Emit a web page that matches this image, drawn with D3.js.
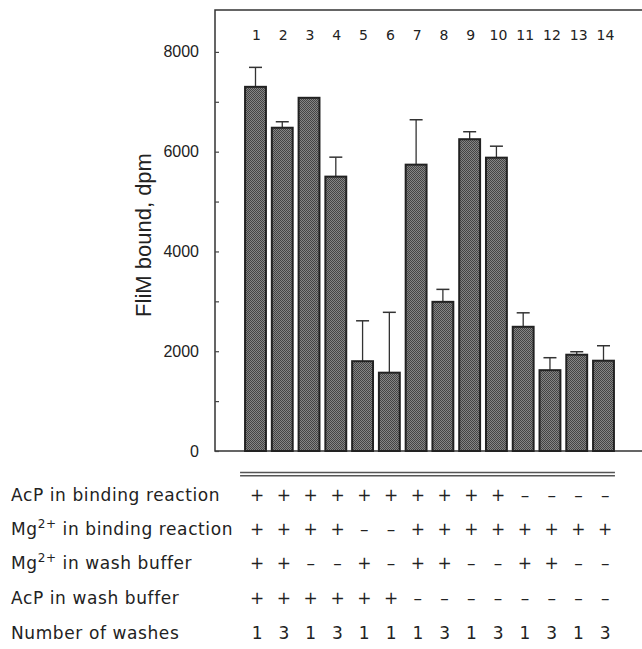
<!DOCTYPE html>
<html>
<head>
<meta charset="utf-8">
<script src="https://cdn.jsdelivr.net/npm/d3@7"></script>
<style>
  body { margin: 0; background: #fff; }
  svg { display: block; }
  .tick-label { font-family: "Liberation Sans", Arial, sans-serif; font-size: 16px; fill: #222; }
  .axis-title { font-family: "Liberation Sans", Arial, sans-serif; font-size: 22px; fill: #222; }
  .table-text { font-family: "DejaVu Sans", sans-serif; font-size: 17px; fill: #222; letter-spacing: 0.6px; }
  .lane-num { font-family: "DejaVu Sans", sans-serif; font-size: 14px; fill: #222; }
</style>
</head>
<body>
<div id="chart"></div>
<script>
// lanes 1..14
const lanes = [1, 2, 3, 4, 5, 6, 7, 8, 9, 10, 11, 12, 13, 14]
const bound = [7300, 6480, 7080, 5500, 1800, 1570, 5740, 2990, 6250, 5880, 2490, 1620, 1930, 1810]
// top of error bar, null when none drawn
const errTop = [7690, 6600, null, 5890, 2610, 2780, 6640, 3240, 6400, 6110, 2770, 1870, 1990, 2110]
const yTicks = [0, 2000, 4000, 6000, 8000]

const rowLabels = ["AcP in binding reaction", "Mg|2+| in binding reaction", "Mg|2+| in wash buffer", "AcP in wash buffer", "Number of washes"]
const acpBinding = ["+", "+", "+", "+", "+", "+", "+", "+", "+", "+", "–", "–", "–", "–"]
const mgBinding = ["+", "+", "+", "+", "–", "–", "+", "+", "+", "+", "+", "+", "+", "+"]
const mgWash = ["+", "+", "–", "–", "+", "–", "+", "+", "–", "–", "+", "+", "–", "–"]
const acpWash = ["+", "+", "+", "+", "+", "+", "–", "–", "–", "–", "–", "–", "–", "–"]
const washes = ["1", "3", "1", "3", "1", "1", "1", "3", "1", "3", "1", "3", "1", "3"]
const rows = [acpBinding, mgBinding, mgWash, acpWash, washes]

const W = 642, H = 649
const plot = { left: 215, top: 10, bottom: 451, right: 643 }

const svg = d3.select('#chart').append('svg')
    .attr('width', W)
    .attr('height', H)

// dithered grey fill like the scanned print
const defs = svg.append('defs')
const pat = defs.append('pattern')
    .attr('id', 'dots')
    .attr('width', 2).attr('height', 2)
    .attr('patternUnits', 'userSpaceOnUse')
pat.append('rect').attr('width', 2).attr('height', 2).attr('fill', '#858585')
pat.append('rect').attr('width', 1).attr('height', 1).attr('fill', '#444')
pat.append('rect').attr('x', 1).attr('y', 1).attr('width', 1).attr('height', 1).attr('fill', '#444')

const y = d3.scaleLinear()
    .domain([0, 8840])
    .range([plot.bottom, plot.top])

const x = d3.scalePoint()
    .domain(lanes)
    .range([255.5, 603.5])

const barW = x.step() * 0.78

// frame: top, left, baseline
svg.append('path')
    .attr('d', `M${plot.right},${plot.top}H${plot.left}V${plot.bottom}H${plot.right}`)
    .attr('fill', 'none')
    .attr('stroke', '#333')
    .attr('stroke-width', 1.5)

// inward ticks, minor every 1000
const yAxis = d3.axisRight(y)
    .tickValues(d3.range(0, 8001, 1000))
    .tickSize(4)
    .tickFormat('')
const yAxisG = svg.append('g')
    .attr('transform', `translate(${plot.left},0)`)
    .call(yAxis)
yAxisG.select('.domain').remove()
yAxisG.selectAll('.tick line').attr('stroke', '#444').attr('stroke-width', 1.2)

svg.selectAll('.tick-label')
    .data(yTicks)
    .enter()
        .append('text')
            .attr('class', 'tick-label')
            .attr('x', 199)
            .attr('y', d => y(d) + 5.5)
            .attr('text-anchor', 'end')
            .text(d => d)

svg.append('text')
    .attr('class', 'axis-title')
    .attr('transform', 'translate(151, 235) rotate(-90)')
    .attr('text-anchor', 'middle')
    .text('FliM bound, dpm')

// lane numbers on top
svg.selectAll('.lane-num')
    .data(lanes)
    .enter()
        .append('text')
            .attr('class', 'lane-num')
            .attr('x', d => x(d) + (d > 9 ? 2 : 1))
            .attr('y', 40)
            .attr('text-anchor', 'middle')
            .text(d => d)

// error bars
const errData = lanes.map((l, i) => ({ lane: l, v: bound[i], top: errTop[i] })).filter(d => d.top !== null)
const errG = svg.append('g')
errG.selectAll('line.stem').data(errData)
    .enter()
        .append('line')
            .attr('class', 'stem')
            .attr('x1', d => x(d.lane)).attr('x2', d => x(d.lane))
            .attr('y1', d => y(d.v)).attr('y2', d => y(d.top))
            .attr('stroke', '#333').attr('stroke-width', 1.3)
errG.selectAll('line.cap').data(errData)
    .enter()
        .append('line')
            .attr('class', 'cap')
            .attr('x1', d => x(d.lane) - 6.5).attr('x2', d => x(d.lane) + 6.5)
            .attr('y1', d => y(d.top)).attr('y2', d => y(d.top))
            .attr('stroke', '#333').attr('stroke-width', 1.5)

// bars
svg.append('g').selectAll('rect')
    .data(lanes.map((l, i) => ({ lane: l, v: bound[i] })))
    .enter()
        .append('rect')
            .attr('x', d => x(d.lane) - barW / 2)
            .attr('y', d => y(d.v))
            .attr('width', barW)
            .attr('height', d => y(0) - y(d.v))
            .attr('fill', 'url(#dots)')
            .attr('stroke', '#222')
            .attr('stroke-width', 2)

// double rule under the plot
const ruleX0 = x(1) - barW / 2 - 5
const ruleX1 = x(14) + barW / 2 + 1
;[472.5, 475.8].forEach(yy => {
    svg.append('line')
        .attr('x1', ruleX0).attr('x2', ruleX1)
        .attr('y1', yy).attr('y2', yy)
        .attr('stroke', '#555').attr('stroke-width', 1.4)
})

// condition table
const rowY = [501, 535, 569, 604, 639]
rowLabels.forEach((lab, r) => {
    const t = svg.append('text')
        .attr('class', 'table-text')
        .attr('x', 11)
        .attr('y', rowY[r])
    const parts = lab.split('|')
    t.append('tspan').text(parts[0])
    if (parts.length > 1) {
        t.append('tspan')
            .attr('font-size', '12px')
            .attr('dy', -7)
            .text(parts[1])
        t.append('tspan')
            .attr('dy', 7)
            .text(parts[2])
    }
    svg.append('g').selectAll('text')
        .data(rows[r])
        .enter()
            .append('text')
                .attr('class', 'table-text')
                .attr('x', (d, i) => x(lanes[i]) + 2)
                .attr('y', rowY[r])
                .attr('text-anchor', 'middle')
                .text(d => d)
})
</script>
</body>
</html>
